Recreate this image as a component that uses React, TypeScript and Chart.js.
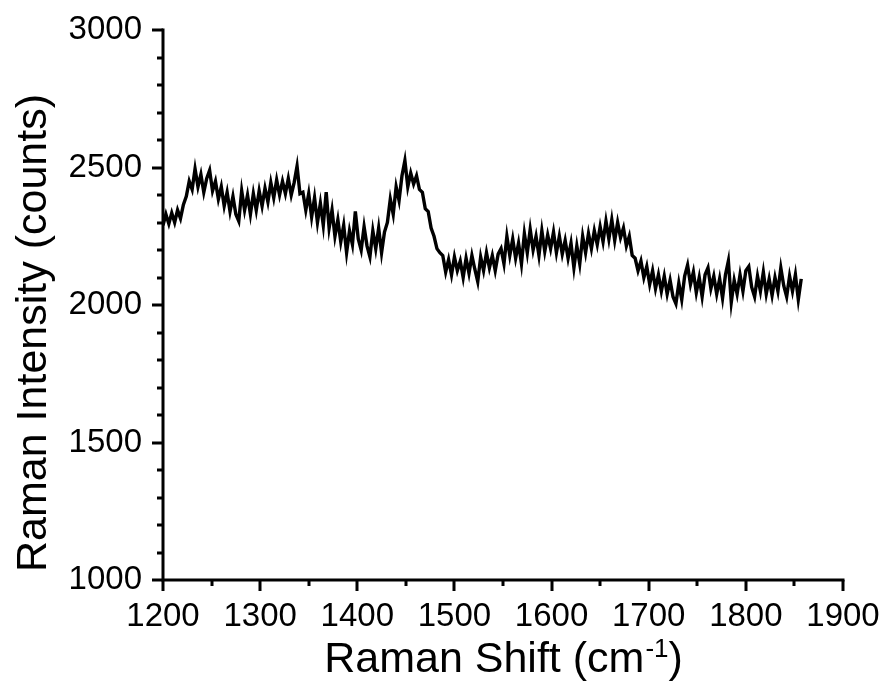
import React, { useEffect, useRef } from "react";
import { Chart, registerables } from "chart.js";

Chart.register(...registerables);

// Raman shift grid (cm^-1): first sample and spacing
const SHIFT_START = 1200;
const SHIFT_STEP = 3;

// Raman intensity (counts), one value per sample
const intensity = [
  // 1200 - 1218
  2290, 2330, 2295, 2335, 2300, 2345, 2315,
  // 1221 - 1227
  2365, 2395, 2450,
  // 1230 - 1251
  2420, 2495, 2430, 2475, 2410, 2460, 2490, 2415,
  // 1254 - 1290
  2450, 2385, 2430, 2360, 2410, 2340, 2395, 2330, 2305, 2415, 2345, 2400, 2330,
  // 1293 - 1329
  2405, 2345, 2415, 2360, 2425, 2375, 2445, 2390, 2455, 2400, 2450, 2405, 2460,
  // 1332 - 1341
  2400, 2445, 2505, 2405,
  // 1344 - 1392
  2410, 2345, 2405, 2320, 2390, 2300, 2370, 2290, 2410, 2280, 2345, 2250, 2310, 2230, 2290, 2190, 2270,
  // 1395 - 1428
  2220, 2340, 2240, 2200, 2285, 2215, 2175, 2270, 2205, 2280, 2190, 2265,
  // 1431 - 1437
  2300, 2385, 2330,
  // 1440 - 1464
  2430, 2380, 2470, 2525, 2430, 2480, 2440, 2470, 2420,
  // 1467 - 1485
  2410, 2350, 2340, 2280, 2250, 2205, 2190,
  // 1488 - 1545
  2180, 2120, 2165, 2110, 2175, 2125, 2160, 2100, 2170, 2115,
  2180, 2130, 2085, 2175, 2125, 2190, 2135, 2180, 2125, 2185,
  // 1548 - 1587
  2205, 2150, 2250, 2180, 2240, 2170, 2225, 2150, 2260, 2190, 2275, 2200, 2250, 2180,
  // 1590 - 1611
  2270, 2195, 2255, 2205, 2265, 2190, 2250, 2185,
  // 1614 - 1632
  2235, 2170, 2225, 2135, 2215, 2150, 2250,
  // 1635 - 1674
  2190, 2260, 2205, 2270, 2220, 2285, 2230, 2305, 2240, 2310, 2235, 2300, 2245, 2280,
  // 1677 - 1698
  2215, 2250, 2180, 2170, 2125, 2160, 2100, 2140,
  // 1701 - 1857
  2075, 2125, 2060, 2110, 2050, 2105, 2040, 2090, 2030, 2005,
  2080, 2020, 2105, 2145, 2075, 2120, 2045, 2100, 2030, 2110,
  2135, 2060, 2105, 2040, 2095, 2025, 2110, 2160, 2010, 2090,
  2040, 2110, 2050, 2125, 2140, 2065, 2030, 2105, 2050, 2120,
  2040, 2095, 2035, 2100, 2050, 2135, 2070, 2030, 2105, 2050,
  2110, 2020, 2095,
];

const X_MIN = 1200;
const X_MAX = 1900;
const X_MAJOR = 100;
const X_MINOR = 50;
const Y_MIN = 1000;
const Y_MAX = 3000;
const Y_MAJOR = 500;
const Y_MINOR = 100;

const X_TITLE = "Raman Shift (cm";
const X_TITLE_SUP = "-1";
const X_TITLE_END = ")";
const Y_TITLE = "Raman Intensity (counts)";

const FONT = '"Liberation Sans", Arial, Helvetica, sans-serif';

const axesPlugin = {
  id: "ramanAxes",
  afterDraw(chart: any) {
    const { ctx, chartArea: a, scales } = chart;
    const xs = scales.x;
    const ys = scales.y;
    ctx.save();
    ctx.strokeStyle = "#000";
    ctx.lineWidth = 3;
    ctx.lineCap = "butt";
    ctx.beginPath();
    ctx.moveTo(a.left, a.top - 1.5);
    ctx.lineTo(a.left, a.bottom);
    ctx.lineTo(a.right + 1.5, a.bottom);
    ctx.stroke();

    ctx.beginPath();
    for (let v = X_MIN; v <= X_MAX; v += X_MINOR) {
      const px = Math.round(xs.getPixelForValue(v));
      const len = v % X_MAJOR === 0 ? 11 : 6;
      ctx.moveTo(px, a.bottom);
      ctx.lineTo(px, a.bottom + len);
    }
    for (let v = Y_MIN; v <= Y_MAX; v += Y_MINOR) {
      const py = Math.round(ys.getPixelForValue(v));
      const len = v % Y_MAJOR === 0 ? 11 : 6;
      ctx.moveTo(a.left, py);
      ctx.lineTo(a.left - len, py);
    }
    ctx.stroke();

    // x title with superscript
    ctx.fillStyle = "#000";
    ctx.textBaseline = "alphabetic";
    ctx.textAlign = "left";
    const big = `43px ${FONT}`;
    const small = `26px ${FONT}`;
    ctx.font = big;
    const w1 = ctx.measureText(X_TITLE).width;
    const w3 = ctx.measureText(X_TITLE_END).width;
    ctx.font = small;
    const w2 = ctx.measureText(X_TITLE_SUP).width;
    const total = w1 + w2 + w3;
    const cx = (a.left + a.right) / 2;
    let tx = cx - total / 2;
    const base = 672;
    ctx.font = big;
    ctx.fillText(X_TITLE, tx, base);
    tx += w1 + 1;
    ctx.font = small;
    ctx.fillText(X_TITLE_SUP, tx, base - 15);
    tx += w2;
    ctx.font = big;
    ctx.fillText(X_TITLE_END, tx, base);

    // y title
    ctx.save();
    ctx.translate(46, 333);
    ctx.rotate(-Math.PI / 2);
    ctx.textAlign = "center";
    ctx.font = big;
    ctx.fillText(Y_TITLE, 0, 0);
    ctx.restore();

    ctx.restore();
  },
};

export default function App() {
  const ref = useRef<HTMLCanvasElement | null>(null);

  useEffect(() => {
    if (!ref.current) return;
    const points = intensity.map((v, i) => ({ x: SHIFT_START + i * SHIFT_STEP, y: v }));
    const chart = new Chart(ref.current, {
      type: "line",
      data: {
        datasets: [
          {
            data: points,
            borderColor: "#000",
            borderWidth: 3.4,
            pointRadius: 0,
            tension: 0,
            fill: false,
          },
        ],
      },
      options: {
        animation: false,
        responsive: false,
        devicePixelRatio: 1,
        layout: { padding: { left: 0, right: 43, top: 30, bottom: 0 } },
        plugins: { legend: { display: false }, tooltip: { enabled: false } },
        scales: {
          x: {
            type: "linear",
            min: X_MIN,
            max: X_MAX,
            afterFit: (s: any) => {
              s.height = 113;
            },
            border: { display: false },
            grid: { display: false, drawTicks: true, tickLength: 11 },
            ticks: {
              stepSize: X_MAJOR,
              color: "#000",
              padding: 6,
              maxRotation: 0,
              autoSkip: false,
              font: { family: FONT, size: 33 },
              callback: (v: any) => String(v),
            },
          },
          y: {
            type: "linear",
            min: Y_MIN,
            max: Y_MAX,
            afterFit: (s: any) => {
              s.width = 163;
            },
            border: { display: false },
            grid: { display: false, drawTicks: true, tickLength: 11 },
            ticks: {
              stepSize: Y_MAJOR,
              color: "#000",
              padding: 10,
              autoSkip: false,
              font: { family: FONT, size: 33 },
              callback: (v: any) => String(v),
            },
          },
        },
      },
      plugins: [axesPlugin],
    });
    return () => chart.destroy();
  }, []);

  return (
    <div style={{ position: "fixed", left: 0, top: 0, width: 886, height: 693, background: "#fff" }}>
      <canvas ref={ref} width={886} height={693} style={{ width: 886, height: 693 }} />
    </div>
  );
}
